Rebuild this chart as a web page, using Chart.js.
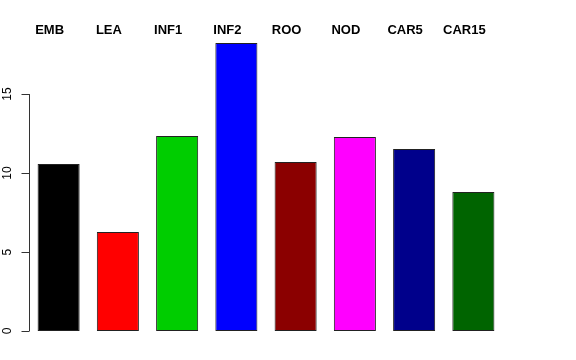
<!DOCTYPE html>
<html>
<head>
<meta charset="utf-8">
<script src="https://cdn.jsdelivr.net/npm/chart.js@4"></script>
<style>
  html, body { margin: 0; padding: 0; background: #fff; }
  #wrap { width: 576px; height: 360px; }
</style>
</head>
<body>
<div id="wrap"><canvas id="bars"></canvas></div>
<script>
// dados
const tissues = ['EMB', 'LEA', 'INF1', 'INF2', 'ROO', 'NOD', 'CAR5', 'CAR15'];
const values = [10.57, 6.27, 12.34, 18.23, 10.70, 12.28, 11.52, 8.80];
const barColors = ['#000000', '#FF0000', '#00CD00', '#0000FF', '#8B0000', '#FF00FF', '#00008B', '#006400'];
const yTicks = [0, 5, 10, 15];

// eixo y no estilo do R + nomes no topo
const rAxis = {
  id: 'rAxis',
  afterDraw(chart) {
    const ctx = chart.ctx;
    const y = chart.scales.y;
    const x = chart.scales.x;
    const axisX = chart.chartArea.left;

    ctx.save();
    ctx.strokeStyle = '#333';
    ctx.lineWidth = 1;
    ctx.beginPath();
    ctx.moveTo(axisX + 0.5, y.getPixelForValue(yTicks[0]));
    ctx.lineTo(axisX + 0.5, y.getPixelForValue(yTicks[yTicks.length - 1]));
    yTicks.forEach(v => {
      let py = Math.round(y.getPixelForValue(v)) + 0.5;
      ctx.moveTo(axisX + 0.5, py);
      ctx.lineTo(axisX - 7.5, py);
    });
    ctx.stroke();

    ctx.fillStyle = '#000';
    ctx.font = '12px "Liberation Sans", Arial, sans-serif';
    ctx.textAlign = 'center';
    ctx.textBaseline = 'middle';
    yTicks.forEach(v => {
      ctx.save();
      ctx.translate(axisX - 21, y.getPixelForValue(v));
      ctx.rotate(-Math.PI / 2);
      ctx.fillText(String(v), 0, 0);
      ctx.restore();
    });

    ctx.font = 'bold 13px "Liberation Sans", Arial, sans-serif';
    ctx.textBaseline = 'alphabetic';
    tissues.forEach((t, i) => {
      ctx.fillText(t, x.getPixelForValue(i) - 9, 34);
    });
    ctx.restore();
  }
};

new Chart(document.getElementById('bars'), {
  type: 'bar',
  data: {
    labels: tissues,
    datasets: [{
      data: values,
      backgroundColor: barColors,
      borderColor: '#222',
      borderWidth: 1,
      borderSkipped: false,
      barPercentage: 0.71,
      categoryPercentage: 1
    }]
  },
  options: {
    responsive: true,
    maintainAspectRatio: false,
    animation: false,
    layout: { padding: { left: 29, right: 73, top: 42, bottom: 29 } },
    plugins: {
      legend: { display: false },
      tooltip: { enabled: false }
    },
    scales: {
      x: { display: false },
      y: { display: false, min: 0, max: 18.3 }
    }
  },
  plugins: [rAxis]
});
</script>
</body>
</html>
